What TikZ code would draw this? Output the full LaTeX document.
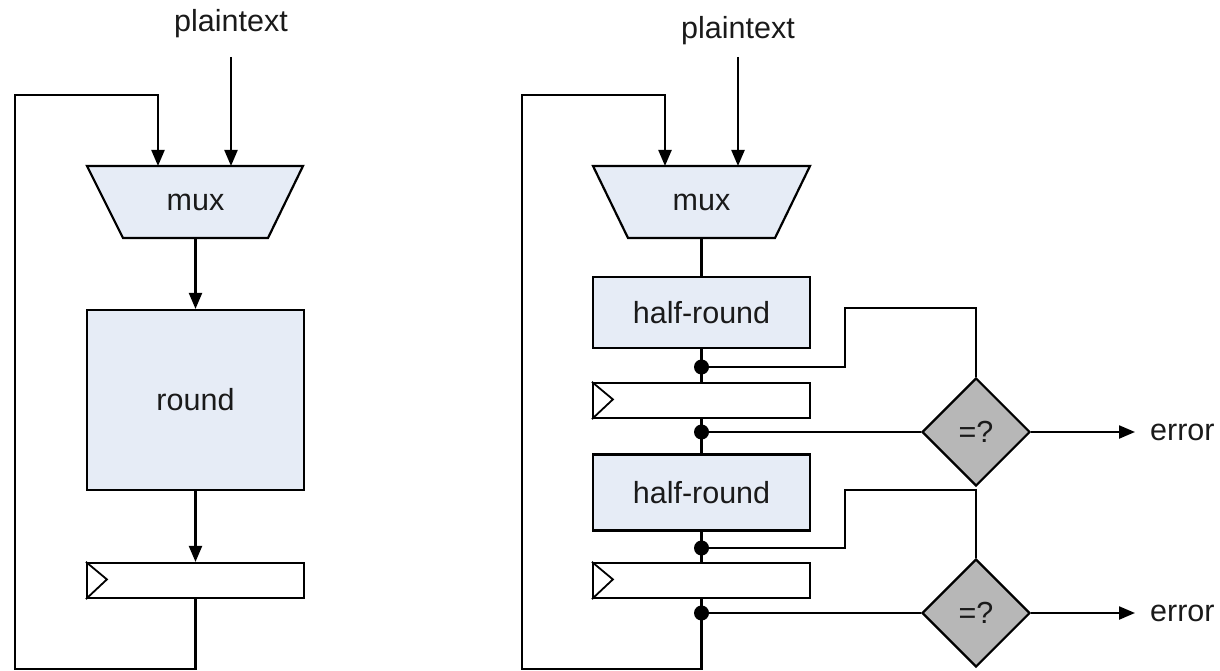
\documentclass[tikz,border=0pt]{standalone}
\usepackage{fontspec}
\setmainfont{Liberation Sans}
\usetikzlibrary{shapes.geometric,arrows.meta}
\definecolor{boxfill}{HTML}{E6ECF6}
\definecolor{cmpfill}{HTML}{B7B7B7}
\definecolor{txt}{HTML}{1A1A1A}
\begin{document}
\begin{tikzpicture}[x=1pt,y=-1pt,
  every node/.style={font=\fontsize{30.5}{36}\selectfont, text=txt},
  wire/.style={line width=2.2pt, draw=black},
  arr/.style={wire, -{Triangle[length=16pt,width=13pt]}},
  blk/.style={draw, line width=2.2pt, fill=boxfill, minimum width=217pt, inner sep=0pt},
  regbox/.style={draw, line width=2.2pt, fill=white, minimum width=217pt, minimum height=35pt, inner sep=0pt},
  cmp/.style={draw, line width=2.2pt, diamond, aspect=1, fill=cmpfill, minimum width=108pt, minimum height=108pt, inner sep=0pt},
  lbl/.style={inner sep=0pt},
  junc/.style={circle, fill=black, minimum size=15pt, inner sep=0pt},
  muxshape/.style={draw, line width=2.2pt, fill=boxfill, line join=miter}
]
\useasboundingbox (0,0) rectangle (1220,671);

% ---------------- left diagram ----------------
\node[lbl] (ptL) at (231,24) {plaintext};
\coordinate (ptLstart) at (231,57);
\draw[muxshape] (87,166) -- (303,166) -- (268,238) -- (123,238) -- cycle;
\node[lbl] (muxL) at (195.5,202) {mux};
\coordinate (muxLin1) at (158,166);
\coordinate (muxLin2) at (231,166);
\coordinate (muxLout) at (195.5,238);

\node[blk, minimum height=180pt] (roundL) at (195.5,400) {round};
\node[regbox] (regL) at (195.5,580.5) {};
\draw[line width=1.8pt] (regL.north west) -- ++(21,17.5) -- (regL.south west);

\draw[arr] (ptLstart) -- (muxLin2);
\draw[arr] (muxLout) -- (roundL.north);
\draw[arr] (roundL.south) -- (regL.north);
\coordinate (cL1) at (15,669);
\coordinate (cL2) at (15,95);
\draw[arr, line join=miter] (regL.south) |- (cL1) -- (cL2) -| (muxLin1);

% ---------------- right diagram ----------------
\node[lbl] (ptR) at (738,31) {plaintext};
\coordinate (ptRstart) at (738,57);
\draw[muxshape] (593,166) -- (810,166) -- (775,238) -- (628,238) -- cycle;
\node[lbl] (muxR) at (701.5,202) {mux};
\coordinate (muxRin1) at (665,166);
\coordinate (muxRin2) at (738,166);
\coordinate (muxRout) at (701.5,238);

\node[blk, minimum height=71pt] (hr1) at (701.5,312.5) {half-round};
\node[regbox] (reg1) at (701.5,400.5) {};
\draw[line width=1.8pt] (reg1.north west) -- ++(21,17.5) -- (reg1.south west);
\node[blk, minimum height=76pt] (hr2) at (701.5,492.5) {half-round};
\node[regbox] (reg2) at (701.5,580.5) {};
\draw[line width=1.8pt] (reg2.north west) -- ++(21,17.5) -- (reg2.south west);

\node[junc] (j1) at (701.5,367) {};
\node[junc] (j2) at (701.5,432) {};
\node[junc] (j3) at (701.5,548) {};
\node[junc] (j4) at (701.5,613) {};

\node[cmp] (cmp1) at (976,432) {=?};
\node[cmp] (cmp2) at (976,613) {=?};
\node[lbl, anchor=west] (err1) at (1150,432) {error};
\node[lbl, anchor=west] (err2) at (1150,613) {error};

\draw[arr] (ptRstart) -- (muxRin2);
\draw[wire] (muxRout) -- (hr1.north);
\draw[wire] (hr1.south) -- (reg1.north);
\draw[wire] (reg1.south) -- (hr2.north);
\draw[wire] (hr2.south) -- (reg2.north);

\coordinate (k1) at (845,308);
\coordinate (k2) at (845,490);
\draw[wire, line join=miter] (j1.center) -| (k1) -| (cmp1.north);
\draw[wire] (j2.center) -- (cmp1.west);
\draw[wire, line join=miter] (j3.center) -| (k2) -| (cmp2.north);
\draw[wire] (j4.center) -- (cmp2.west);
\draw[arr, shorten >=15pt] (cmp1.east) -- (err1.west);
\draw[arr, shorten >=15pt] (cmp2.east) -- (err2.west);

\coordinate (cR1) at (522,669);
\coordinate (cR2) at (522,95);
\draw[arr, line join=miter] (reg2.south) |- (cR1) -- (cR2) -| (muxRin1);
\end{tikzpicture}
\end{document}
